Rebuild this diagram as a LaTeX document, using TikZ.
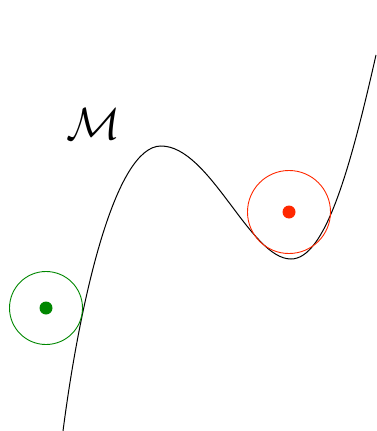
\documentclass[tikz,border=0pt]{standalone}
\definecolor{ptgreen}{RGB}{0,135,0}
\definecolor{ptred}{RGB}{255,40,0}
\begin{document}
\begin{tikzpicture}[x=1pt,y=-1pt,
  ball/.style={line width=0.9pt},
  dot/.style={circle,inner sep=0pt,minimum size=13pt}]
\useasboundingbox (0,0) rectangle (376,431);
\coordinate (c0) at (63,431);
\coordinate (peak) at (161,146);
\coordinate (valley) at (291,259);
\coordinate (c3) at (376,55);
\draw[line width=1pt] (c0) .. controls (80,300) and (115,146) .. (peak)
  .. controls (210,146) and (250,259) .. (valley)
  .. controls (325,259) and (350,170) .. (c3);
\node[scale=4.5] (M) at (94,124) {$\mathcal{M}$};
\draw[ball,ptgreen] (46,308) circle[radius=36.5];
\node[dot,fill=ptgreen] (g) at (46,308) {};
\draw[ball,ptred] (289,212) circle[radius=41.5];
\node[dot,fill=ptred] (r) at (289,212) {};
\end{tikzpicture}
\end{document}
